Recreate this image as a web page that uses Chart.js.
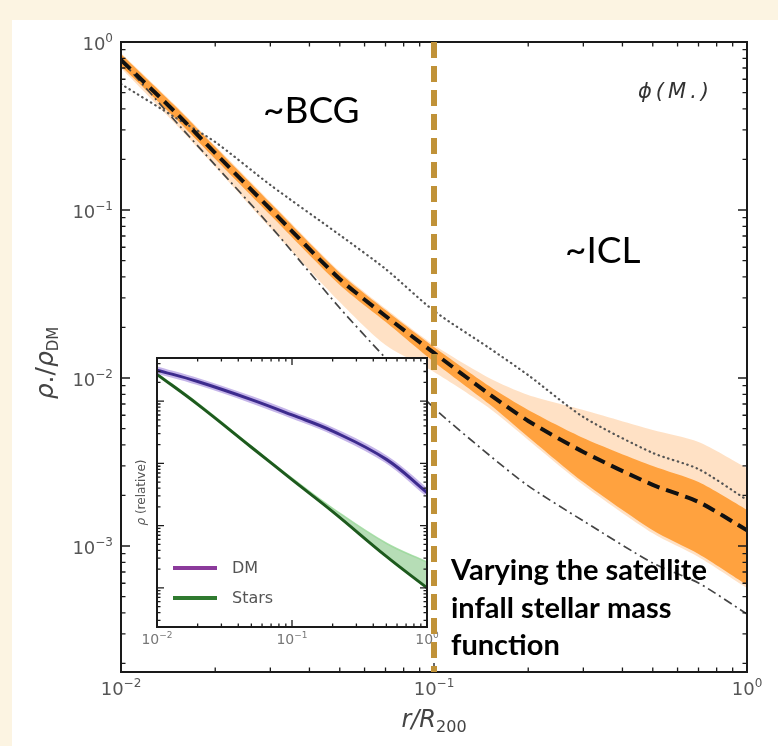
<!DOCTYPE html>
<html>
<head>
<meta charset="utf-8">
<script src="https://cdn.jsdelivr.net/npm/chart.js@4.4.1/dist/chart.umd.min.js"></script>
<style>
    html, body { margin: 0; padding: 0; background: #fcf4e2; }
    #wrap { position: relative; width: 778px; height: 746px; overflow: hidden; }
    #panel { position: absolute; left: 12px; top: 20px; width: 766px; height: 726px; background: #fff; }
    canvas { position: absolute; }
</style>
</head>
<body>
<div id="wrap">
    <div id="panel"></div>
    <canvas id="main" width="778" height="746" style="left:0;top:0"></canvas>
    <canvas id="inset" width="330" height="310" style="left:122px;top:348px"></canvas>
    <canvas id="overlay" width="778" height="746" style="left:0;top:0"></canvas>
</div>
<script>
// 본 그래프: r/R200 에 따른 ρ*/ρDM
const radius = [0.01, 0.015, 0.02, 0.03, 0.05, 0.07, 0.1, 0.15, 0.2, 0.3, 0.5, 0.7, 1.0];
const medianRatio = [0.781, 0.378, 0.218, 0.1014, 0.0388, 0.0234, 0.0141, 0.00803, 0.00555, 0.00363, 0.00231, 0.00183, 0.00124];
const dottedRatio = [0.562, 0.353, 0.254, 0.141, 0.071, 0.0446, 0.0251, 0.0151, 0.0104, 0.00586, 0.00358, 0.00287, 0.00188];
const dashDotRatio = [0.781, 0.334, 0.185, 0.0803, 0.0261, 0.01315, 0.00663, 0.00348, 0.00228, 0.00141, 0.000792, 0.000602, 0.000394];
const innerHi = [0.848, 0.410, 0.237, 0.110, 0.0422, 0.0254, 0.0153, 0.00896, 0.00645, 0.00440, 0.00299, 0.00240, 0.00164];
const innerLo = [0.720, 0.348, 0.201, 0.0933, 0.0358, 0.0216, 0.01245, 0.0070, 0.00446, 0.00240, 0.00124, 0.000896, 0.000586];
const outerHi = [0.860, 0.416, 0.241, 0.112, 0.0430, 0.0259, 0.0157, 0.0100, 0.00792, 0.00645, 0.00490, 0.00416, 0.00291];
const outerLo = [0.700, 0.322, 0.181, 0.0781, 0.0283, 0.0157, 0.01086, 0.00663, 0.00428, 0.00231, 0.00119, 0.000861, 0.000562];
const splitRadius = 0.1;

// 축 눈금 (10의 지수)
const xTickExp = [-2, -1, 0];
const yTickExp = [0, -1, -2, -3];

// 삽입 그래프: 상대 밀도
const insetRadius = [0.01, 0.02, 0.05, 0.1, 0.2, 0.5, 1.0];
const dmProfile = [3.16, 2.07, 1.06, 0.60, 0.33, 0.116, 0.034];
const starsProfile = [2.7, 0.89, 0.182, 0.0548, 0.0168, 0.0032, 0.0010];
const starsUpper = [2.8, 0.93, 0.19, 0.058, 0.019, 0.0052, 0.0026];
const insetTickExp = [-2, -1, 0];
const insetLegend = [
    { label: 'DM', color: '#8b3a9b' },
    { label: 'Stars', color: '#2f7a2f' }
];

const FONT = '"DejaVu Sans"';
const TENSION = 0.25;

function pts(xs, ys) {
    return xs.map((x, i) => ({ x: x, y: ys[i] }));
}

function logTicks(min, max) {
    const out = [];
    for (let e = Math.floor(Math.log10(min)); e <= Math.ceil(Math.log10(max)); e++) {
        for (let m = 1; m < 10; m++) {
            const v = m * Math.pow(10, e);
            if (v >= min * 0.999 && v <= max * 1.001) out.push({ v: v, major: m === 1 });
        }
    }
    return out;
}

function drawLogTicks(ctx, xs, ys, a, majLen, minLen, lw) {
    ctx.strokeStyle = '#1a1a1a';
    ctx.lineWidth = lw;
    ctx.beginPath();
    logTicks(xs.min, xs.max).forEach(t => {
        const px = xs.getPixelForValue(t.v);
        const len = t.major ? majLen : minLen;
        ctx.moveTo(px, a.bottom); ctx.lineTo(px, a.bottom - len);
        ctx.moveTo(px, a.top); ctx.lineTo(px, a.top + len);
    });
    logTicks(ys.min, ys.max).forEach(t => {
        const py = ys.getPixelForValue(t.v);
        const len = t.major ? majLen : minLen;
        ctx.moveTo(a.left, py); ctx.lineTo(a.left + len, py);
        ctx.moveTo(a.right, py); ctx.lineTo(a.right - len, py);
    });
    ctx.stroke();
}

// 글자 조각들을 이어 그리기 (위/아래 첨자용)
function drawRich(ctx, parts, x, y, align) {
    let w = 0;
    parts.forEach(p => { ctx.font = p.f; p.w = ctx.measureText(p.t).width; w += p.w; });
    let cx = align === 'center' ? x - w / 2 : (align === 'right' ? x - w : x);
    ctx.textAlign = 'left';
    ctx.textBaseline = 'alphabetic';
    parts.forEach(p => {
        ctx.font = p.f;
        ctx.fillText(p.t, cx, y + (p.dy || 0));
        cx += p.w;
    });
}

function powParts(exp, size) {
    const s = exp < 0 ? '\u2212' + Math.abs(exp) : String(exp);
    return [
        { t: '10', f: size + 'px ' + FONT },
        { t: s, f: Math.round(size * 0.65) + 'px ' + FONT, dy: -size * 0.45 }
    ];
}

const mainFrame = {
    id: 'mainFrame',
    afterDraw(chart) {
        const { ctx, chartArea: a, scales: { x, y } } = chart;
        ctx.save();
        drawLogTicks(ctx, x, y, a, 9, 4.5, 1.3);
        ctx.strokeStyle = '#1a1a1a';
        ctx.lineWidth = 2;
        ctx.strokeRect(a.left, a.top, a.right - a.left, a.bottom - a.top);

        ctx.fillStyle = '#555';
        xTickExp.forEach(e => {
            drawRich(ctx, powParts(e, 18), x.getPixelForValue(Math.pow(10, e)), a.bottom + 23, 'center');
        });
        yTickExp.forEach(e => {
            drawRich(ctx, powParts(e, 18), a.left - 8, y.getPixelForValue(Math.pow(10, e)) + 8, 'right');
        });

        // 축 제목
        ctx.fillStyle = '#444';
        drawRich(ctx, [
            { t: 'r/R', f: 'italic 24px ' + FONT },
            { t: '200', f: '16px ' + FONT, dy: 5 }
        ], (a.left + a.right) / 2, a.bottom + 55, 'center');
        ctx.save();
        ctx.translate(a.left - 68, (a.top + a.bottom) / 2 + 6);
        ctx.rotate(-Math.PI / 2);
        drawRich(ctx, [
            { t: '\u03c1', f: 'italic 25px ' + FONT },
            { t: '.', f: '25px ' + FONT },
            { t: '/', f: '25px ' + FONT },
            { t: '\u03c1', f: 'italic 25px ' + FONT },
            { t: 'DM', f: '15px ' + FONT, dy: 5 }
        ], 0, 0, 'center');
        ctx.restore();

        // 주석
        ctx.fillStyle = '#000';
        ctx.font = '37px Lato';
        ctx.fillText('~BCG', 263, 123);
        ctx.fillText('~ICL', 565, 263);
        ctx.fillStyle = '#333';
        ctx.font = 'italic 21px ' + FONT;
        ctx.letterSpacing = '4px';
        ctx.fillText('\u03d5(M.)', 638, 98);
        ctx.letterSpacing = '0px';
        ctx.fillStyle = '#000';
        ctx.font = 'bold 29px Lato';
        ctx.fillText('Varying the satellite', 451, 580);
        ctx.fillText('infall stellar mass', 451, 618);
        ctx.fillText('function', 451, 655);
        ctx.restore();
    }
};

const hidden = { borderWidth: 0, pointRadius: 0, tension: TENSION };

const mainChart = new Chart(document.getElementById('main'), {
    type: 'line',
    data: {
        datasets: [
            { label: 'median', data: pts(radius, medianRatio), borderColor: '#111', borderWidth: 4,
              borderDash: [13, 7], pointRadius: 0, tension: TENSION, fill: false },
            { label: 'dotted', data: pts(radius, dottedRatio), borderColor: '#555', borderWidth: 2.2,
              borderDash: [0.5, 4.5], borderCapStyle: 'round', pointRadius: 0, tension: TENSION, fill: false },
            { label: 'dashdot', data: pts(radius, dashDotRatio), borderColor: '#444', borderWidth: 1.7,
              borderDash: [9, 4, 2, 4], pointRadius: 0, tension: TENSION, fill: false },
            Object.assign({ label: 'innerHi', data: pts(radius, innerHi), fill: '+1',
              backgroundColor: 'rgba(255,150,40,0.85)' }, hidden),
            Object.assign({ label: 'innerLo', data: pts(radius, innerLo), fill: false }, hidden),
            Object.assign({ label: 'outerHi', data: pts(radius, outerHi), fill: '+1',
              backgroundColor: 'rgba(255,165,80,0.33)' }, hidden),
            Object.assign({ label: 'outerLo', data: pts(radius, outerLo), fill: false }, hidden)
        ]
    },
    options: {
        responsive: false,
        animation: false,
        layout: { padding: { left: 121, top: 42, right: 31, bottom: 74 } },
        plugins: { legend: { display: false }, tooltip: { enabled: false } },
        scales: {
            x: { type: 'logarithmic', min: 0.01, max: 1, display: false },
            y: { type: 'logarithmic', min: Math.pow(10, -3.75), max: 1, display: false }
        }
    },
    plugins: [mainFrame]
});

const insetFrame = {
    id: 'insetFrame',
    beforeDatasetsDraw(chart) {
        const { ctx, chartArea: a } = chart;
        ctx.save();
        ctx.fillStyle = '#fff';
        ctx.fillRect(a.left, a.top, a.right - a.left, a.bottom - a.top);
        ctx.restore();
    },
    afterDraw(chart) {
        const { ctx, chartArea: a, scales: { x, y } } = chart;
        ctx.save();
        drawLogTicks(ctx, x, y, a, 7, 3.5, 1.3);
        ctx.strokeStyle = '#1a1a1a';
        ctx.lineWidth = 2;
        ctx.strokeRect(a.left, a.top, a.right - a.left, a.bottom - a.top);

        ctx.fillStyle = '#777';
        insetTickExp.forEach(e => {
            drawRich(ctx, powParts(e, 14), x.getPixelForValue(Math.pow(10, e)), a.bottom + 17, 'center');
        });

        ctx.fillStyle = '#555';
        ctx.save();
        ctx.translate(a.left - 12, (a.top + a.bottom) / 2);
        ctx.rotate(-Math.PI / 2);
        drawRich(ctx, [
            { t: '\u03c1', f: 'italic 12px ' + FONT },
            { t: ' (relative)', f: '12px ' + FONT }
        ], 0, 0, 'center');
        ctx.restore();

        // 범례
        insetLegend.forEach((item, i) => {
            const ly = a.bottom - 59 + i * 30;
            ctx.strokeStyle = item.color;
            ctx.lineWidth = 4;
            ctx.beginPath();
            ctx.moveTo(a.left + 16, ly);
            ctx.lineTo(a.left + 60, ly);
            ctx.stroke();
            ctx.fillStyle = '#555';
            ctx.font = '16px ' + FONT;
            ctx.textBaseline = 'middle';
            ctx.fillText(item.label, a.left + 75, ly + 1);
        });
        ctx.restore();
    }
};

const insetChart = new Chart(document.getElementById('inset'), {
    type: 'line',
    data: {
        datasets: [
            { label: 'DM', data: pts(insetRadius, dmProfile), borderColor: '#3d2b8e', borderWidth: 3,
              pointRadius: 0, tension: 0.4, fill: false },
            { label: 'DM spread', data: pts(insetRadius, dmProfile), borderColor: 'rgba(150,120,215,0.55)', borderWidth: 7,
              pointRadius: 0, tension: 0.4, fill: false },
            { label: 'Stars', data: pts(insetRadius, starsProfile), borderColor: '#1d5a1d', borderWidth: 3,
              pointRadius: 0, tension: 0.4, fill: false },
            { label: 'Stars spread', data: pts(insetRadius, starsUpper), borderColor: 'rgba(150,215,150,0.8)', borderWidth: 1.5,
              pointRadius: 0, tension: 0.4, fill: '-1', backgroundColor: 'rgba(80,175,80,0.42)' }
        ]
    },
    options: {
        responsive: false,
        animation: false,
        layout: { padding: { left: 35, top: 10, right: 25, bottom: 31 } },
        plugins: { legend: { display: false }, tooltip: { enabled: false } },
        scales: {
            x: { type: 'logarithmic', min: 0.01, max: 1, display: false },
            y: { type: 'logarithmic', min: Math.pow(10, -3.63), max: Math.pow(10, 0.694), display: false }
        }
    },
    plugins: [insetFrame]
});

// 0.1 R200 구분선 (삽입 그래프 위에 그림)
function drawSplit() {
    const ctx = document.getElementById('overlay').getContext('2d');
    const a = mainChart.chartArea;
    const px = mainChart.scales.x.getPixelForValue(splitRadius);
    ctx.save();
    ctx.strokeStyle = '#c09238';
    ctx.lineWidth = 6;
    ctx.setLineDash([16, 8]);
    ctx.beginPath();
    ctx.moveTo(px, a.top);
    ctx.lineTo(px, a.bottom);
    ctx.stroke();
    ctx.restore();
}

drawSplit();
</script>
</body>
</html>
